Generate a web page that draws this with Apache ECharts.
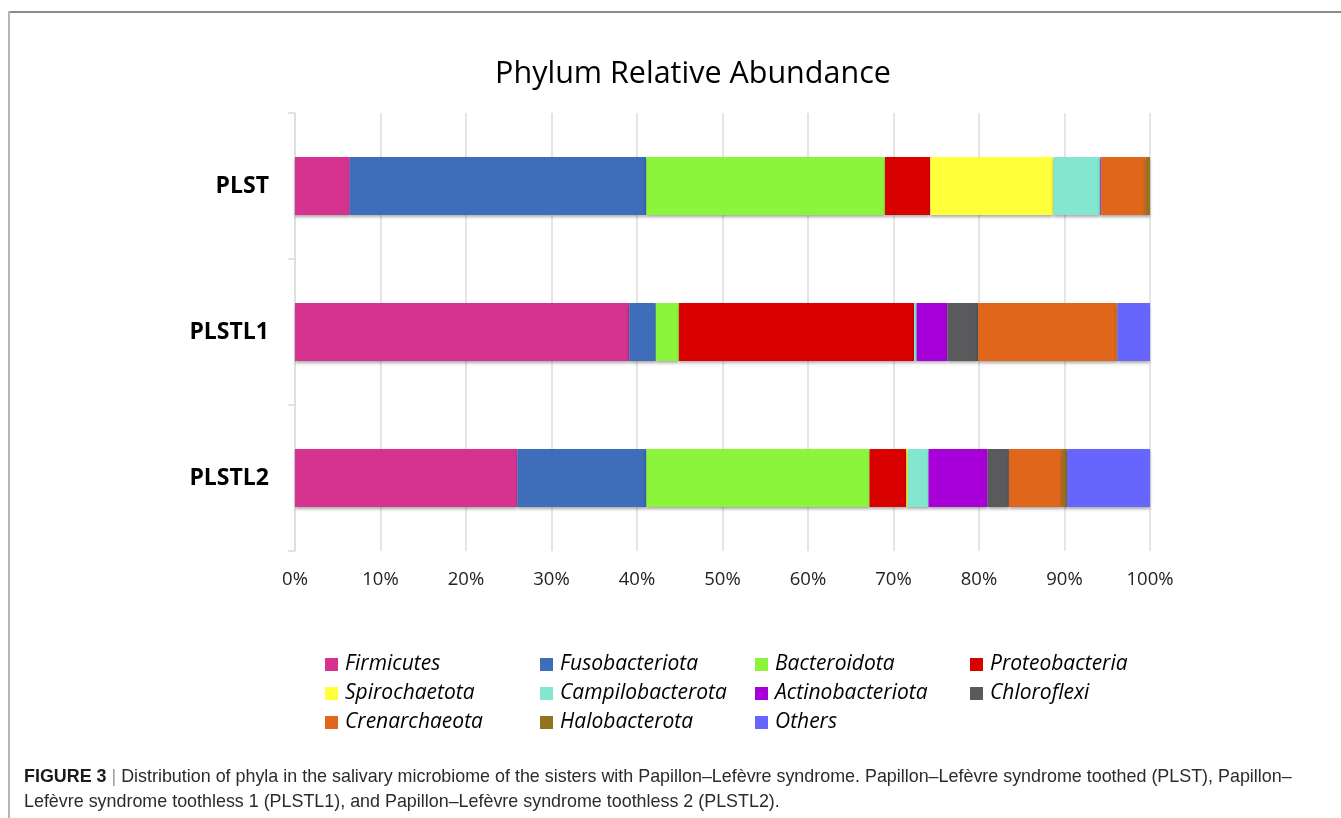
<!DOCTYPE html>
<html><head><meta charset="utf-8">
<script src="https://cdn.jsdelivr.net/npm/echarts@6/dist/echarts.min.js"></script>
<style>
html,body{margin:0;padding:0;background:#fff;width:1341px;height:818px;overflow:hidden;}
#chart{position:absolute;left:0;top:0;width:1341px;height:818px;}
#frameTop{position:absolute;left:9px;top:11px;width:1332px;height:0;border-top:2px solid #8c8c8c;}
#frameLeft{position:absolute;left:8px;top:11px;width:0;height:807px;border-left:2px solid #b5b5b5;}
#caption{position:absolute;left:24px;top:764px;width:1310px;font-family:"Liberation Sans",Arial,sans-serif;font-size:17.9px;line-height:25px;color:#2b2b2b;white-space:nowrap;}
#caption b{color:#1a1a1a;}
#caption .sep{color:#999;padding:0 5px;}
</style>
</head><body>
<div id="chart"></div>
<div id="frameTop"></div>
<div id="frameLeft"></div>
<div id="caption"><b>FIGURE 3</b><span class="sep">|</span>Distribution of phyla in the salivary microbiome of the sisters with Papillon–Lefèvre syndrome. Papillon–Lefèvre syndrome toothed (PLST), Papillon–<br>Lefèvre syndrome toothless 1 (PLSTL1), and Papillon–Lefèvre syndrome toothless 2 (PLSTL2).</div>
<script>
// Categories (top to bottom)
const samples = ["PLST", "PLSTL1", "PLSTL2"];
const xTicks = [0, 10, 20, 30, 40, 50, 60, 70, 80, 90, 100];
// Relative abundance (%) per phylum, in order [PLST, PLSTL1, PLSTL2]
const firmicutes       = [6.4, 39.1, 26.0];
const fusobacteriota   = [34.7, 3.1, 15.1];
const bacteroidota     = [27.9, 2.7, 26.1];
const proteobacteria   = [5.3, 27.5, 4.3];
const spirochaetota    = [14.4, 0.0, 0.2];
const campilobacterota = [5.5, 0.3, 2.4];
const actinobacteriota = [0.1, 3.6, 6.9];
const chloroflexi      = [0.0, 3.6, 2.5];
const crenarchaeota    = [5.2, 16.2, 6.2];
const halobacterota    = [0.5, 0.1, 0.6];
const others           = [0.0, 3.8, 9.7];

const phylumNames = ["Firmicutes","Fusobacteriota","Bacteroidota","Proteobacteria","Spirochaetota","Campilobacterota","Actinobacteriota","Chloroflexi","Crenarchaeota","Halobacterota","Others"];
const phylumValues = [firmicutes,fusobacteriota,bacteroidota,proteobacteria,spirochaetota,campilobacterota,actinobacteriota,chloroflexi,crenarchaeota,halobacterota,others];
const phylumColors = ["#D63391","#3E6DB9","#8BF53B","#D90000","#FFFF3A","#82E6D0","#A800D8","#5A5A5C","#E0661C","#957220","#6666FF"];

const chart = echarts.init(document.getElementById('chart'));
const series = phylumNames.map((n, i) => ({
  name: n, type: 'bar', stack: 'total', barWidth: 58,
  data: phylumValues[i],
  itemStyle: { color: phylumColors[i], shadowColor: 'rgba(0,0,0,0.35)', shadowBlur: 3, shadowOffsetY: 2 },
  emphasis: { disabled: true }
}));
chart.setOption({
  animation: false,
  backgroundColor: '#fff',
  title: {
    text: 'Phylum Relative Abundance', left: 688, top: 54, textAlign: 'center',
    textStyle: { fontFamily: 'Open Sans', fontWeight: 'normal', fontSize: 30.5, color: '#000' }
  },
  grid: { left: 295, right: 191, top: 113, bottom: 267, containLabel: false },
  xAxis: {
    type: 'value', min: 0, max: 100, interval: 10,
    axisLine: { show: false }, axisTick: { show: false },
    splitLine: { show: true, lineStyle: { color: '#dcdcdc', width: 1.5 } },
    axisLabel: { formatter: '{value}%', margin: 19, fontFamily: 'Open Sans', fontSize: 18.5, color: '#222' }
  },
  yAxis: {
    type: 'category', data: samples, inverse: true,
    axisLine: { show: true, lineStyle: { color: '#dcdcdc', width: 1.5 } },
    axisTick: { show: true, length: 7, lineStyle: { color: '#dcdcdc', width: 1.5 } },
    axisLabel: { margin: 26, fontFamily: 'Open Sans', fontWeight: 'bold', fontSize: 23, color: '#000' }
  },
  legend: {
    data: phylumNames, left: 320, top: 649, width: 890,
    orient: 'horizontal', icon: 'rect', itemWidth: 13, itemHeight: 13, itemGap: 8, itemTextGap: 6,
    selectedMode: false,
    textStyle: { fontFamily: 'Open Sans', fontStyle: 'italic', fontSize: 21, color: '#000', width: 187, lineHeight: 20, padding: [0,0,0,2] }
  },
  series: series
});
</script>
</body></html>
